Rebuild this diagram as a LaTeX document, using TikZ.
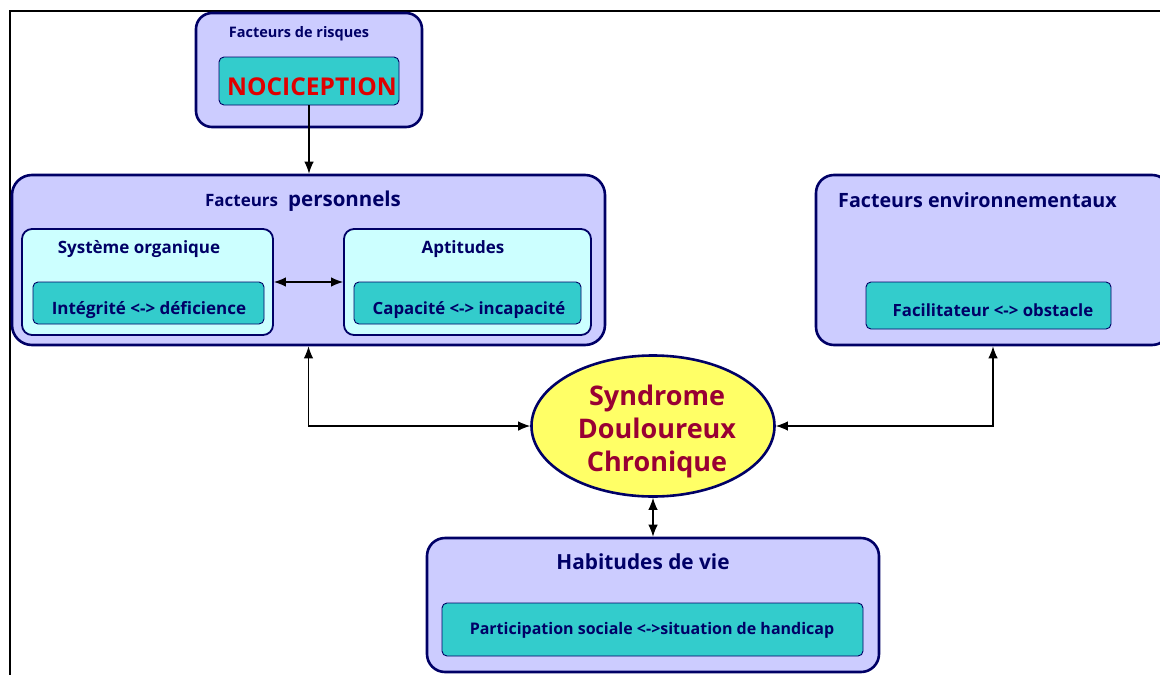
\documentclass[tikz,border=0pt]{standalone}
\usepackage{fontspec}
\setmainfont{Open Sans}
\usetikzlibrary{arrows.meta,shapes.geometric}
\definecolor{navy}{HTML}{000066}
\definecolor{lav}{HTML}{CCCCFF}
\definecolor{tealbox}{HTML}{33CCCC}
\definecolor{paleteal}{HTML}{CCFFFF}
\definecolor{yel}{HTML}{FFFF66}
\definecolor{wine}{HTML}{990033}
\definecolor{nred}{HTML}{E00000}
\newcommand{\fs}[1]{\fontsize{#1}{#1}\selectfont\bfseries}
\tikzset{
  outerbox/.style={draw=navy, fill=lav, line width=2.6pt, rounded corners=16pt, inner sep=0pt},
  midbox/.style={draw=navy, fill=paleteal, line width=1.8pt, rounded corners=10pt, inner sep=0pt},
  innerbox/.style={draw=navy, fill=tealbox, line width=0.9pt, rounded corners=5pt, inner sep=0pt},
  lbl/.style={text=navy, inner sep=0pt},
  link/.style={line width=1.2pt, black, {Latex[length=12pt,width=9.5pt]}-{Latex[length=12pt,width=9.5pt]}},
  onelink/.style={line width=1.2pt, black, -{Latex[length=12pt,width=9.5pt]}}
}
\begin{document}
\begin{tikzpicture}[x=1pt,y=-1pt]
\useasboundingbox (0,0) rectangle (1160,675);
% outer frame
\draw[line width=1.5pt] (1165,11) -- (10,11) -- (10,680);

% risk factors
\node[outerbox, minimum width=226, minimum height=114] (risk) at (309,70) {};
\node[lbl, font=\fs{14.5}] (risktitle) at (299,34) {Facteurs de risques};
\node[innerbox, minimum width=180, minimum height=48] (noci) at (309,81) {};
\node[inner sep=0pt, text=nred, font=\fs{24.5}] (nocitext) at (312,87) {NOCICEPTION};

% personal factors
\node[outerbox, rounded corners=20pt, minimum width=593, minimum height=170] (perso) at (308.5,260) {};
\node[lbl] (persotitle) at (303,201) {\fs{17}Facteurs\hspace{10pt}\fs{20.5}personnels};
\node[midbox, minimum width=251, minimum height=106] (sys) at (147.5,282) {};
\node[lbl, font=\fs{17}] (systitle) at (139,249) {Système organique};
\node[innerbox, minimum width=231, minimum height=42] (integ) at (148.5,303) {};
\node[lbl, font=\fs{17}] (integtext) at (149,310) {Intégrité <-> déficience};
\node[midbox, minimum width=247, minimum height=106] (apt) at (467.5,282) {};
\node[lbl, font=\fs{17}] (apttitle) at (463,249) {Aptitudes};
\node[innerbox, minimum width=227, minimum height=42] (capa) at (467.5,303) {};
\node[lbl, font=\fs{16.8}] (capatext) at (469,310) {Capacité <-> incapacité};

% environmental factors
\node[outerbox, rounded corners=18pt, minimum width=354, minimum height=170] (env) at (993,260) {};
\node[lbl, font=\fs{19.7}, anchor=west] (envtitle) at (838,200) {Facteurs environnementaux};
\node[innerbox, minimum width=245, minimum height=47] (facil) at (988.5,305.5) {};
\node[lbl, font=\fs{16.8}] (faciltext) at (993,310) {Facilitateur <-> obstacle};

% central syndrome
\node[ellipse, draw=navy, fill=yel, line width=2.6pt, minimum width=243, minimum height=141,
      inner sep=0pt] (synd) at (653,426) {};
\node[inner sep=0pt, text=wine, align=center, font=\fs{27}] (syndtext) at (657,431)
  {Syndrome\\[6pt]Douloureux\\[6pt]Chronique};

% life habits
\node[outerbox, rounded corners=18pt, minimum width=452, minimum height=134] (hab) at (653,605) {};
\node[lbl, font=\fs{20.8}] (habtitle) at (643,562) {Habitudes de vie};
\node[innerbox, minimum width=421, minimum height=53] (part) at (652.5,629.5) {};
\node[lbl, font=\fs{16}] (parttext) at (652,630) {Participation sociale <->situation de handicap};

% connectors
\draw[onelink] (noci.south) -- (noci.south |- perso.north);
\draw[link] (sys.east) -- (apt.west);
\draw[link] (perso.south) |- (synd.west);
\draw[link] (env.south) |- (synd.east);
\draw[link] (synd.south) -- (hab.north);
\end{tikzpicture}
\end{document}
